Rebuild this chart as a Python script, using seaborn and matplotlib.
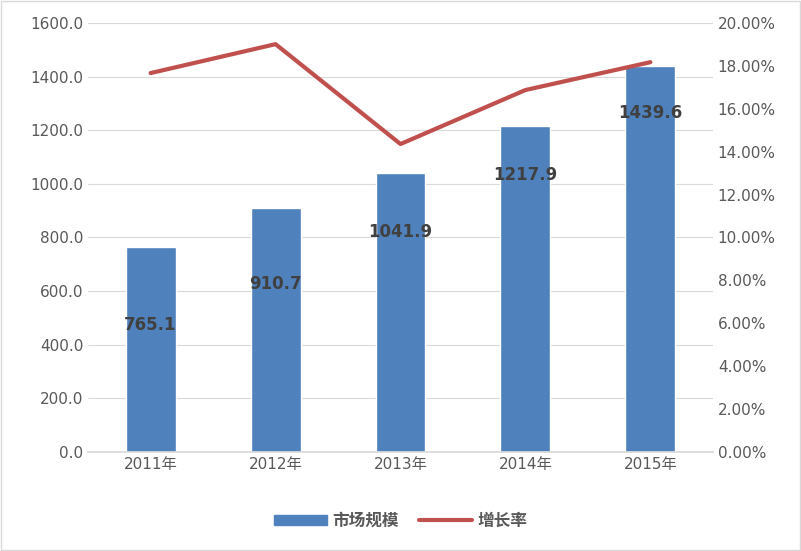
import matplotlib
matplotlib.use("Agg")
import matplotlib.pyplot as plt
import seaborn as sns
import pandas as pd
from matplotlib.ticker import FuncFormatter, MultipleLocator

years = ["2011年", "2012年", "2013年", "2014年", "2015年"]
market = [765.1, 910.7, 1041.9, 1217.9, 1439.6]
growth = [17.67, 19.02, 14.36, 16.88, 18.18]
label_pos = [474, 627, 820, 1032, 1265]

sns.set_theme(style="white")
plt.rcParams['font.family'] = ['DejaVu Sans', 'Noto Sans CJK SC']

fig = plt.figure(figsize=(8.01, 5.51), dpi=100)
ax = fig.add_axes([0.11, 0.18, 0.78, 0.778])
df = pd.DataFrame({"year": years, "v": market})
sns.barplot(data=df, x="year", y="v", color="#4F81BD", saturation=1, width=0.4, ax=ax, zorder=2)
ax.set_ylim(0, 1600)
ax.yaxis.set_major_locator(MultipleLocator(200))
ax.yaxis.set_major_formatter(FuncFormatter(lambda v, p: f"{v:.1f}"))
ax.grid(axis="y", color="#D9D9D9", linewidth=0.8, zorder=0)
ax.set_axisbelow(True)
ax.set_xlabel(""); ax.set_ylabel("")
for s in ["top", "right", "left"]:
    ax.spines[s].set_visible(False)
ax.spines["bottom"].set_color("#D9D9D9")
ax.tick_params(colors="#595959", labelsize=11, length=0)
for i, (v, lp) in enumerate(zip(market, label_pos)):
    ax.text(i, lp, f"{v:.1f}", ha="center", va="center", fontsize=12, fontweight="bold", color="#404040", zorder=5)

ax2 = ax.twinx()
sns.lineplot(x=list(range(len(years))), y=growth, ax=ax2, color="#C0504D", linewidth=3)
ax2.set_ylim(0, 20)
ax2.yaxis.set_major_locator(MultipleLocator(2))
ax2.yaxis.set_major_formatter(FuncFormatter(lambda v, p: f"{v:.2f}%"))
for s in ["top", "right", "left", "bottom"]:
    ax2.spines[s].set_visible(False)
ax2.tick_params(colors="#595959", labelsize=11, length=0)
ax.set_xlim(-0.5, 4.5)

from matplotlib.patches import Patch
from matplotlib.lines import Line2D
handles = [Patch(color="#4F81BD"), Line2D([], [], color="#C0504D", linewidth=3)]
fig.legend(handles, ["市场规模", "增长率"], loc="center", bbox_to_anchor=(0.5, 0.055), ncol=2,
           frameon=False, fontsize=12, handlelength=3.2, handleheight=0.6, handletextpad=0.3,
           columnspacing=1.2, prop={'family': ['Noto Sans CJK SC'], 'size': 12, 'weight': 'bold'})
for t in fig.legends[0].get_texts():
    t.set_color("#595959")

fig.patches.append(plt.Rectangle((0.001, 0.001), 0.998, 0.998, transform=fig.transFigure,
                                 fill=False, edgecolor="#D9D9D9", linewidth=1))
fig.savefig("out.png", dpi=100)
